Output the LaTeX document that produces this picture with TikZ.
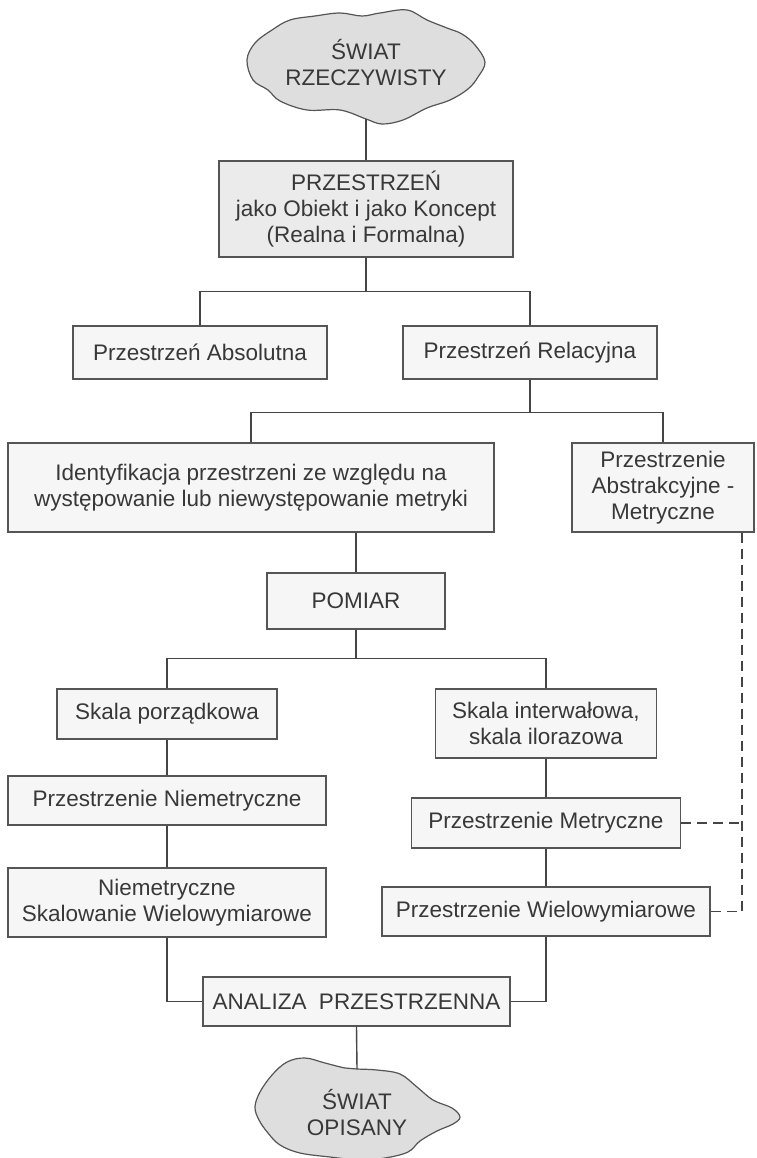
\documentclass[tikz,border=0pt]{standalone}
\usepackage{fontspec}
\setmainfont{Liberation Sans}
\usetikzlibrary{calc}
\definecolor{linec}{HTML}{454545}
\definecolor{boxline}{HTML}{555555}
\definecolor{txt}{HTML}{383838}
\definecolor{boxfill}{HTML}{F6F6F6}
\definecolor{boxdark}{HTML}{EBEBEB}
\definecolor{cloudfill}{HTML}{DEDEDE}
\tikzset{
  box/.style={draw=boxline, line width=1.2pt, fill=boxfill, rectangle, inner sep=0pt,
    align=center, text=txt, font=\fontsize{22.5}{26}\selectfont},
  conn/.style={draw=linec, line width=1.4pt},
  dconn/.style={draw=linec, line width=1.4pt, dash pattern=on 10pt off 6pt},
  cloudpath/.style={draw=boxline, line width=1.2pt, fill=cloudfill},
  cloudtext/.style={align=center, text=txt, font=\fontsize{22.5}{26}\selectfont, inner sep=0pt}
}
\begin{document}
\begin{tikzpicture}[x=1pt,y=-1pt]
\useasboundingbox (0,0) rectangle (756,1158);
% top cloud
\draw[cloudpath] plot[smooth cycle, tension=0.6] coordinates {
 (255,43) (272,30) (290,20) (315,16) (340,13) (362,16) (380,13) (407,10) (427,20) (447,28)
 (462,34) (475,45) (485,62) (478,77) (468,89) (450,100) (427,108) (403,120) (382,124)
 (366,119) (340,110) (307,110) (280,101) (268,90) (253,80) (247,60)};
\node[cloudtext] (w1) at (366,63) {ŚWIAT\\RZECZYWISTY};
\coordinate (w1b) at (366,119);
% bottom cloud
\draw[cloudpath] plot[smooth cycle, tension=0.6] coordinates {
 (287,1062) (305,1058) (325,1063) (345,1068) (357,1069) (377,1070) (400,1074) (417,1087)
 (433,1100) (452,1108) (460,1117) (453,1124) (437,1131) (420,1141) (408,1152) (385,1158)
 (360,1160) (330,1157) (300,1153) (280,1145) (268,1133) (259,1120) (255,1107) (260,1092)
 (272,1075)};
\node[cloudtext] (w2) at (357,1113) {ŚWIAT\\OPISANY};
\coordinate (w2t) at (357,1069);
% boxes
\node[box, fill=boxdark, minimum width=294pt, minimum height=96pt] (prz) at (366,209)
  {PRZESTRZEŃ\\jako Obiekt i jako Koncept\\(Realna i Formalna)};
\node[box, minimum width=254pt, minimum height=53pt] (abs) at (200,352.5) {Przestrzeń Absolutna};
\node[box, minimum width=254pt, minimum height=53pt] (rel) at (530,352.5) {Przestrzeń Relacyjna};
\node[box, minimum width=486pt, minimum height=89pt] (ide) at (251,487.5)
  {Identyfikacja przestrzeni ze względu na\\występowanie lub niewystępowanie metryki};
\node[box, minimum width=182pt, minimum height=89pt] (abm) at (663,487.5)
  {Przestrzenie\\Abstrakcyjne -\\Metryczne};
\node[box, minimum width=178pt, minimum height=56pt] (pom) at (356,601) {POMIAR};
\node[box, minimum width=220pt, minimum height=50pt] (skp) at (167,714) {Skala porządkowa};
\node[box, minimum width=221pt, minimum height=69pt] (ski) at (546,723.5)
  {Skala interwałowa,\\skala ilorazowa};
\node[box, minimum width=318pt, minimum height=49pt] (pn) at (167,800.5) {Przestrzenie Niemetryczne};
\node[box, minimum width=318pt, minimum height=69pt] (nsw) at (167,902.5)
  {Niemetryczne\\Skalowanie Wielowymiarowe};
\node[box, minimum width=269pt, minimum height=50pt] (pm) at (546,823) {Przestrzenie Metryczne};
\node[box, minimum width=328pt, minimum height=49pt] (pw) at (546,911.5) {Przestrzenie Wielowymiarowe};
\node[box, minimum width=307pt, minimum height=49pt] (ana) at (356.5,1001.5) {ANALIZA\ \ PRZESTRZENNA};
% connectors
\draw[conn] (w1b) -- (prz.north);
\draw[conn] (prz.south) -- ($(prz.south)+(0,34)$) coordinate (j1);
\draw[conn] (abs.north) |- (j1) -| (rel.north);
\draw[conn] (rel.south) -- ($(rel.south)+(0,33)$) coordinate (j2);
\draw[conn] (ide.north) |- (j2) -| (abm.north);
\draw[conn] (pom.north |- ide.south) -- (pom.north);
\draw[conn] (pom.south) -- ($(pom.south)+(0,29)$) coordinate (j3);
\draw[conn] (skp.north) |- (j3) -| (ski.north);
\draw[conn] (skp.south) -- (pn.north);
\draw[conn] (pn.south) -- (nsw.north);
\draw[conn] (ski.south) -- (pm.north);
\draw[conn] (pm.south) -- (pw.north);
\draw[conn] (nsw.south) |- (ana.west);
\draw[conn] (pw.south) |- (ana.east);
\draw[conn] (ana.south) -- (w2t);
% dashed links
\coordinate (dend) at (742,911.5);
\draw[dconn] (abm.south -| dend) -- (dend) -- (pw.east);
\draw[dconn] (pm.east) -- (pm.east -| dend);
\end{tikzpicture}
\end{document}
